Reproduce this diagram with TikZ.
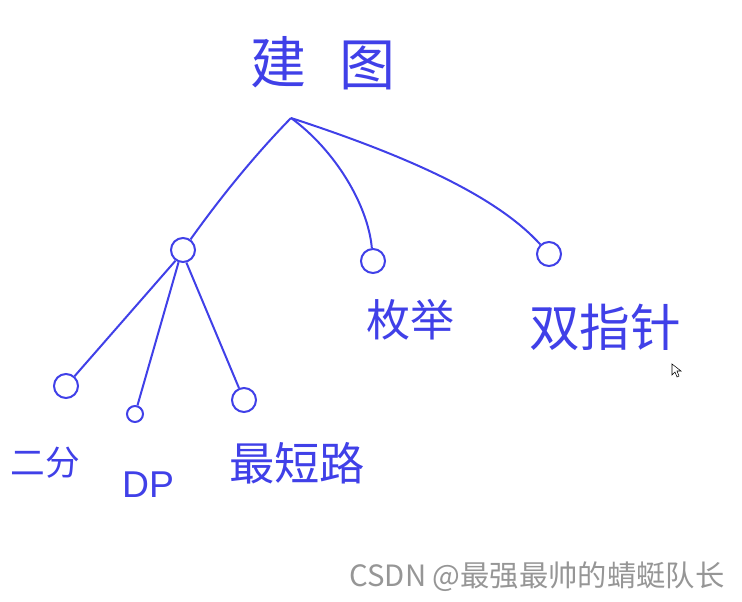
\documentclass[tikz,border=0pt]{standalone}
\usepackage{fontspec}
\setmainfont{Liberation Sans}
\newfontfamily\cjk{Noto Sans CJK SC}
\begin{document}
\begin{tikzpicture}[x=0.75pt,y=0.75pt,yscale=-1,xscale=1,
  pen/.style={color={rgb, 255:red, 64; green, 64; blue, 232}, line width=1.5pt},
  ring/.style={pen, draw, circle, minimum size=18pt, inner sep=0pt},
  word/.style={text={rgb, 255:red, 64; green, 64; blue, 232}, inner sep=0pt}]
\useasboundingbox (0,0) rectangle (742,602);

%Root point
\coordinate (top) at (291,118);
%Shape: Circle
\node [ring] (sub) at (183,250) {};
\node [ring] (enum) at (373,261) {};
\node [ring] (twop) at (549,254) {};
\node [ring] (bin) at (66,386) {};
\node [ring, minimum size=12pt] (dp) at (135,414) {};
\node [ring] (spath) at (244,400) {};

%Curve Lines
\draw [pen] (top) .. controls (250,160) and (215,205) .. (sub);
\draw [pen] (top) .. controls (335,150) and (368,205) .. (enum);
\draw [pen] (top) .. controls (420,160) and (500,200) .. (twop);
%Straight Lines
\draw [pen] (sub.235) -- (bin);
\draw [pen] (sub.250) -- (dp);
\draw [pen] (sub.285) -- (spath);

% Text Node
\node [word, font=\cjk\fontsize{42}{42}\selectfont] (title1) at (278,62) {建};
% Text Node
\node [word, font=\cjk\fontsize{42}{42}\selectfont] (title2) at (367,65) {图};
% Text Node
\node [word, font=\cjk\fontsize{33}{33}\selectfont] (lbl-enum) at (410,320) {枚举};
% Text Node
\node [word, font=\cjk\fontsize{38}{38}\selectfont] (lbl-twop) at (605,327) {双指针};
% Text Node
\node [word, font=\cjk\fontsize{26}{26}\selectfont] (lbl-bin) at (45,463) {二分};
% Text Node
\node [word, font=\fontsize{28}{28}\selectfont] (lbl-dp) at (148,485) {DP};
% Text Node
\node [word, font=\cjk\fontsize{34}{34}\selectfont] (lbl-spath) at (297,463) {最短路};
% Text Node
\node [text={rgb, 255:red, 150; green, 150; blue, 150}, inner sep=0pt, font=\cjk\fontsize{22}{22}\selectfont] (mark) at (537,577) {CSDN @最强最帅的蜻蜓队长};

%Shape: Cursor
\draw [line width=0.4pt, fill=white] (672,364) -- (672,375) -- (675,372) -- (677,377) -- (679,376) -- (677,371) -- (681,371) -- cycle;

\end{tikzpicture}
\end{document}
